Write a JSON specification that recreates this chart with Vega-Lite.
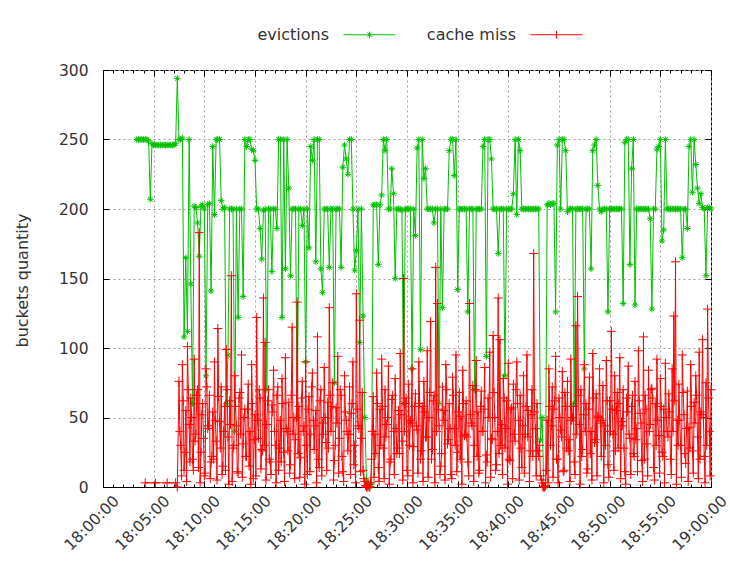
{
"$schema": "https://vega.github.io/schema/vega-lite/v6.json",
"width": 608, "height": 417,
"autosize": {"type": "none"},
"padding": {"left": 103, "top": 70, "right": 19, "bottom": 74},
"background": "white",
"config": {
  "view": {"stroke": "#000", "strokeWidth": 1},
  "font": "DejaVu Sans",
  "axis": {"labelFont": "DejaVu Sans", "labelFontSize": 15.5, "labelColor": "#333", "titleFont": "DejaVu Sans", "titleFontSize": 16, "titleFontWeight": "normal", "titleColor": "#333", "domainColor": "#000", "tickColor": "#000", "gridColor": "#a0a0a0", "gridDash": [2, 3], "gridWidth": 1},
  "legend": {"labelFont": "DejaVu Sans", "labelFontSize": 16, "labelColor": "#333"}
},
"datasets": {
"ev": [
{"t":200,"v":250},{"t":210,"v":250},{"t":220,"v":250},{"t":230,"v":250},{"t":240,"v":250},{"t":250,"v":250},{"t":260,"v":250},{"t":270,"v":249},{"t":280,"v":207},
{"t":290,"v":247},{"t":300,"v":246},{"t":310,"v":246},{"t":320,"v":246},{"t":330,"v":246},{"t":340,"v":246},{"t":350,"v":246},{"t":360,"v":246},{"t":370,"v":246},{"t":380,"v":246},{"t":390,"v":246},{"t":400,"v":246},{"t":410,"v":246},{"t":420,"v":246},{"t":430,"v":247},
{"t":440,"v":294},{"t":450,"v":250},{"t":460,"v":250},{"t":470,"v":251},{"t":480,"v":108},{"t":490,"v":165},{"t":500,"v":112},{"t":510,"v":250},{"t":520,"v":146},{"t":530,"v":60},
{"t":540,"v":202},{"t":550,"v":201},{"t":560,"v":190},{"t":570,"v":166},{"t":580,"v":202},{"t":590,"v":203},{"t":600,"v":200},{"t":610,"v":80},{"t":620,"v":203},{"t":630,"v":204},
{"t":640,"v":141},{"t":650,"v":245},{"t":660,"v":196},{"t":670,"v":250},{"t":680,"v":250},{"t":690,"v":250},{"t":700,"v":206},{"t":710,"v":200},{"t":720,"v":201},{"t":730,"v":60},
{"t":740,"v":95},{"t":750,"v":200},{"t":760,"v":200},{"t":770,"v":200},{"t":780,"v":40},{"t":790,"v":200},{"t":800,"v":122},{"t":810,"v":200},{"t":820,"v":200},{"t":830,"v":137},
{"t":840,"v":250},{"t":850,"v":245},{"t":860,"v":250},{"t":870,"v":250},{"t":880,"v":243},{"t":890,"v":242},{"t":900,"v":235},{"t":910,"v":200},{"t":920,"v":200},{"t":930,"v":186},
{"t":940,"v":164},{"t":950,"v":199},{"t":960,"v":200},{"t":970,"v":70},{"t":980,"v":200},{"t":990,"v":200},{"t":1000,"v":155},{"t":1010,"v":200},{"t":1020,"v":200},{"t":1030,"v":186},
{"t":1040,"v":250},{"t":1050,"v":250},{"t":1060,"v":122},{"t":1070,"v":250},{"t":1080,"v":157},{"t":1090,"v":250},{"t":1100,"v":215},{"t":1110,"v":152},{"t":1120,"v":200},{"t":1130,"v":200},
{"t":1140,"v":200},{"t":1150,"v":50},{"t":1160,"v":200},{"t":1170,"v":200},{"t":1180,"v":188},{"t":1190,"v":200},{"t":1200,"v":90},{"t":1210,"v":200},{"t":1220,"v":172},{"t":1230,"v":245},
{"t":1240,"v":235},{"t":1250,"v":250},{"t":1260,"v":162},{"t":1270,"v":250},{"t":1280,"v":250},{"t":1290,"v":157},{"t":1300,"v":140},{"t":1310,"v":200},{"t":1320,"v":200},{"t":1330,"v":200},
{"t":1340,"v":158},{"t":1350,"v":200},{"t":1360,"v":200},{"t":1370,"v":75},{"t":1380,"v":200},{"t":1390,"v":200},{"t":1400,"v":200},{"t":1410,"v":158},{"t":1420,"v":230},{"t":1430,"v":246},
{"t":1440,"v":236},{"t":1450,"v":225},{"t":1460,"v":250},{"t":1470,"v":250},{"t":1480,"v":200},{"t":1490,"v":156},{"t":1500,"v":170},{"t":1510,"v":200},{"t":1520,"v":104},{"t":1530,"v":200},
{"t":1540,"v":123},{"t":1550,"v":50},{"t":1560,"v":5},{"t":1570,"v":0},{"t":1580,"v":0},{"t":1590,"v":2},{"t":1600,"v":203},{"t":1610,"v":203},{"t":1620,"v":203},{"t":1630,"v":160},
{"t":1640,"v":203},{"t":1650,"v":210},{"t":1660,"v":250},{"t":1670,"v":242},{"t":1680,"v":250},{"t":1690,"v":200},{"t":1700,"v":200},{"t":1710,"v":229},{"t":1720,"v":211},{"t":1730,"v":150},
{"t":1740,"v":200},{"t":1750,"v":200},{"t":1760,"v":200},{"t":1770,"v":199},{"t":1780,"v":60},{"t":1790,"v":200},{"t":1800,"v":200},{"t":1810,"v":200},{"t":1820,"v":200},{"t":1830,"v":85},
{"t":1840,"v":200},{"t":1850,"v":181},{"t":1860,"v":244},{"t":1870,"v":250},{"t":1880,"v":99},{"t":1890,"v":250},{"t":1900,"v":222},{"t":1910,"v":229},{"t":1920,"v":200},{"t":1930,"v":200},
{"t":1940,"v":200},{"t":1950,"v":200},{"t":1960,"v":190},{"t":1970,"v":200},{"t":1980,"v":200},{"t":1990,"v":60},{"t":2000,"v":200},{"t":2010,"v":129},{"t":2020,"v":200},{"t":2030,"v":200},
{"t":2040,"v":200},{"t":2050,"v":242},{"t":2060,"v":250},{"t":2070,"v":250},{"t":2080,"v":224},{"t":2090,"v":250},{"t":2100,"v":142},{"t":2110,"v":200},{"t":2120,"v":200},{"t":2130,"v":200},
{"t":2140,"v":200},{"t":2150,"v":200},{"t":2160,"v":126},{"t":2170,"v":200},{"t":2180,"v":200},{"t":2190,"v":200},{"t":2200,"v":70},{"t":2210,"v":200},{"t":2220,"v":200},{"t":2230,"v":200},
{"t":2240,"v":200},{"t":2250,"v":245},{"t":2260,"v":250},{"t":2270,"v":94},{"t":2280,"v":250},{"t":2290,"v":250},{"t":2300,"v":236},{"t":2310,"v":200},{"t":2320,"v":200},{"t":2330,"v":200},
{"t":2340,"v":168},{"t":2350,"v":200},{"t":2360,"v":200},{"t":2370,"v":200},{"t":2380,"v":80},{"t":2390,"v":200},{"t":2400,"v":200},{"t":2410,"v":200},{"t":2420,"v":200},{"t":2430,"v":211},
{"t":2440,"v":250},{"t":2450,"v":196},{"t":2460,"v":250},{"t":2470,"v":242},{"t":2480,"v":200},{"t":2490,"v":200},{"t":2500,"v":200},{"t":2510,"v":200},{"t":2520,"v":200},{"t":2530,"v":200},
{"t":2540,"v":200},{"t":2550,"v":200},{"t":2560,"v":200},{"t":2570,"v":200},{"t":2580,"v":200},{"t":2590,"v":34},{"t":2600,"v":50},{"t":2610,"v":0},{"t":2620,"v":0},{"t":2630,"v":203},
{"t":2640,"v":204},{"t":2650,"v":203},{"t":2660,"v":204},{"t":2670,"v":204},{"t":2680,"v":126},{"t":2690,"v":246},{"t":2700,"v":250},{"t":2710,"v":200},{"t":2720,"v":250},{"t":2730,"v":250},
{"t":2740,"v":242},{"t":2750,"v":198},{"t":2760,"v":200},{"t":2770,"v":200},{"t":2780,"v":200},{"t":2790,"v":60},{"t":2800,"v":200},{"t":2810,"v":200},{"t":2820,"v":200},{"t":2830,"v":200},
{"t":2840,"v":200},{"t":2850,"v":85},{"t":2860,"v":200},{"t":2870,"v":200},{"t":2880,"v":200},{"t":2890,"v":157},{"t":2900,"v":242},{"t":2910,"v":246},{"t":2920,"v":250},{"t":2930,"v":217},
{"t":2940,"v":200},{"t":2950,"v":198},{"t":2960,"v":200},{"t":2970,"v":200},{"t":2980,"v":200},{"t":2990,"v":126},{"t":3000,"v":200},{"t":3010,"v":200},{"t":3020,"v":200},{"t":3030,"v":200},
{"t":3040,"v":200},{"t":3050,"v":200},{"t":3060,"v":200},{"t":3070,"v":200},{"t":3080,"v":132},{"t":3090,"v":248},{"t":3100,"v":250},{"t":3110,"v":250},{"t":3120,"v":160},{"t":3130,"v":229},
{"t":3140,"v":250},{"t":3150,"v":131},{"t":3160,"v":200},{"t":3170,"v":200},{"t":3180,"v":200},{"t":3190,"v":200},{"t":3200,"v":200},{"t":3210,"v":200},{"t":3220,"v":200},{"t":3230,"v":200},
{"t":3240,"v":193},{"t":3250,"v":128},{"t":3260,"v":200},{"t":3270,"v":200},{"t":3280,"v":243},{"t":3290,"v":245},{"t":3300,"v":250},{"t":3310,"v":177},{"t":3320,"v":185},{"t":3330,"v":250},
{"t":3340,"v":200},{"t":3350,"v":200},{"t":3360,"v":200},{"t":3370,"v":200},{"t":3380,"v":200},{"t":3390,"v":200},{"t":3400,"v":200},{"t":3410,"v":200},{"t":3420,"v":200},{"t":3430,"v":165},
{"t":3440,"v":200},{"t":3450,"v":200},{"t":3460,"v":186},{"t":3470,"v":245},{"t":3480,"v":250},{"t":3490,"v":212},{"t":3500,"v":250},{"t":3510,"v":232},{"t":3520,"v":215},{"t":3530,"v":204},
{"t":3540,"v":211},{"t":3550,"v":201},{"t":3560,"v":200},{"t":3570,"v":152},{"t":3580,"v":201},{"t":3590,"v":201},{"t":3600,"v":200}
],
"cm": [
{"t":250,"v":3},{"t":310,"v":3},{"t":380,"v":3},{"t":430,"v":3},{"t":440,"v":0},
{"t":450,"v":76},{"t":460,"v":30},{"t":470,"v":88},{"t":480,"v":12},{"t":490,"v":55},{"t":500,"v":101},{"t":510,"v":45},{"t":520,"v":64},{"t":530,"v":20},{"t":540,"v":92},
{"t":550,"v":38},{"t":560,"v":70},{"t":570,"v":183},{"t":580,"v":25},{"t":590,"v":60},{"t":600,"v":8},{"t":610,"v":85},{"t":620,"v":42},{"t":630,"v":66},{"t":640,"v":18},
{"t":650,"v":54},{"t":660,"v":90},{"t":670,"v":33},{"t":680,"v":114},{"t":690,"v":47},{"t":700,"v":72},{"t":710,"v":15},{"t":720,"v":58},{"t":730,"v":99},{"t":740,"v":36},
{"t":750,"v":62},{"t":760,"v":152},{"t":770,"v":28},{"t":780,"v":80},{"t":790,"v":44},{"t":800,"v":10},{"t":810,"v":68},{"t":820,"v":95},{"t":830,"v":31},{"t":840,"v":56},
{"t":850,"v":22},{"t":860,"v":74},{"t":870,"v":40},{"t":880,"v":88},{"t":890,"v":6},{"t":900,"v":52},{"t":910,"v":122},{"t":920,"v":35},{"t":930,"v":64},{"t":940,"v":27},
{"t":950,"v":136},{"t":960,"v":104},{"t":970,"v":45},{"t":980,"v":70},{"t":990,"v":18},{"t":1000,"v":59},{"t":1010,"v":84},{"t":1020,"v":30},{"t":1030,"v":66},{"t":1040,"v":12},
{"t":1050,"v":48},{"t":1060,"v":78},{"t":1070,"v":25},{"t":1080,"v":93},{"t":1090,"v":40},{"t":1100,"v":61},{"t":1110,"v":16},{"t":1120,"v":115},{"t":1130,"v":50},{"t":1140,"v":34},
{"t":1150,"v":133},{"t":1160,"v":58},{"t":1170,"v":21},{"t":1180,"v":76},{"t":1190,"v":44},{"t":1200,"v":90},{"t":1210,"v":9},{"t":1220,"v":65},{"t":1230,"v":38},{"t":1240,"v":82},
{"t":1250,"v":27},{"t":1260,"v":55},{"t":1270,"v":108},{"t":1280,"v":14},{"t":1290,"v":70},{"t":1300,"v":46},{"t":1310,"v":86},{"t":1320,"v":32},{"t":1330,"v":61},{"t":1340,"v":129},
{"t":1350,"v":40},{"t":1360,"v":75},{"t":1370,"v":19},{"t":1380,"v":57},{"t":1390,"v":94},{"t":1400,"v":35},{"t":1410,"v":66},{"t":1420,"v":11},{"t":1430,"v":80},{"t":1440,"v":48},
{"t":1450,"v":26},{"t":1460,"v":72},{"t":1470,"v":53},{"t":1480,"v":90},{"t":1490,"v":30},{"t":1500,"v":139},{"t":1510,"v":44},{"t":1520,"v":120},{"t":1530,"v":35},{"t":1540,"v":12},
{"t":1550,"v":4},{"t":1560,"v":0},{"t":1570,"v":2},{"t":1580,"v":0},{"t":1590,"v":20},{"t":1600,"v":65},{"t":1610,"v":38},{"t":1620,"v":82},{"t":1630,"v":14},{"t":1640,"v":56},
{"t":1650,"v":92},{"t":1660,"v":28},{"t":1670,"v":70},{"t":1680,"v":45},{"t":1690,"v":87},{"t":1700,"v":18},{"t":1710,"v":63},{"t":1720,"v":40},{"t":1730,"v":78},{"t":1740,"v":24},
{"t":1750,"v":55},{"t":1760,"v":96},{"t":1770,"v":33},{"t":1780,"v":150},{"t":1790,"v":60},{"t":1800,"v":12},{"t":1810,"v":74},{"t":1820,"v":48},{"t":1830,"v":85},{"t":1840,"v":29},
{"t":1850,"v":67},{"t":1860,"v":41},{"t":1870,"v":90},{"t":1880,"v":20},{"t":1890,"v":58},{"t":1900,"v":76},{"t":1910,"v":36},{"t":1920,"v":98},{"t":1930,"v":50},{"t":1940,"v":119},
{"t":1950,"v":27},{"t":1960,"v":66},{"t":1970,"v":158},{"t":1980,"v":132},{"t":1990,"v":44},{"t":2000,"v":15},{"t":2010,"v":72},{"t":2020,"v":55},{"t":2030,"v":88},{"t":2040,"v":31},
{"t":2050,"v":60},{"t":2060,"v":9},{"t":2070,"v":79},{"t":2080,"v":42},{"t":2090,"v":95},{"t":2100,"v":25},{"t":2110,"v":68},{"t":2120,"v":51},{"t":2130,"v":84},{"t":2140,"v":37},
{"t":2150,"v":62},{"t":2160,"v":18},{"t":2170,"v":132},{"t":2180,"v":46},{"t":2190,"v":73},{"t":2200,"v":30},{"t":2210,"v":91},{"t":2220,"v":54},{"t":2230,"v":12},{"t":2240,"v":69},
{"t":2250,"v":40},{"t":2260,"v":86},{"t":2270,"v":23},{"t":2280,"v":64},{"t":2290,"v":97},{"t":2300,"v":35},{"t":2310,"v":109},{"t":2320,"v":50},{"t":2330,"v":16},{"t":2340,"v":136},
{"t":2350,"v":106},{"t":2360,"v":45},{"t":2370,"v":78},{"t":2380,"v":28},{"t":2390,"v":62},{"t":2400,"v":89},{"t":2410,"v":19},{"t":2420,"v":57},{"t":2430,"v":74},{"t":2440,"v":33},
{"t":2450,"v":90},{"t":2460,"v":48},{"t":2470,"v":66},{"t":2480,"v":14},{"t":2490,"v":80},{"t":2500,"v":38},{"t":2510,"v":95},{"t":2520,"v":55},{"t":2530,"v":26},{"t":2540,"v":70},
{"t":2550,"v":168},{"t":2560,"v":42},{"t":2570,"v":60},{"t":2580,"v":22},{"t":2590,"v":8},{"t":2600,"v":3},{"t":2610,"v":0},{"t":2620,"v":1},{"t":2630,"v":48},{"t":2640,"v":85},
{"t":2650,"v":30},{"t":2660,"v":72},{"t":2670,"v":56},{"t":2680,"v":94},{"t":2690,"v":20},{"t":2700,"v":64},{"t":2710,"v":41},{"t":2720,"v":83},{"t":2730,"v":12},{"t":2740,"v":58},
{"t":2750,"v":76},{"t":2760,"v":34},{"t":2770,"v":92},{"t":2780,"v":50},{"t":2790,"v":18},{"t":2800,"v":116},{"t":2810,"v":137},{"t":2820,"v":45},{"t":2830,"v":70},{"t":2840,"v":27},
{"t":2850,"v":88},{"t":2860,"v":60},{"t":2870,"v":13},{"t":2880,"v":79},{"t":2890,"v":40},{"t":2900,"v":96},{"t":2910,"v":32},{"t":2920,"v":67},{"t":2930,"v":51},{"t":2940,"v":85},
{"t":2950,"v":22},{"t":2960,"v":73},{"t":2970,"v":44},{"t":2980,"v":91},{"t":2990,"v":16},{"t":3000,"v":62},{"t":3010,"v":112},{"t":3020,"v":38},{"t":3030,"v":80},{"t":3040,"v":55},
{"t":3050,"v":28},{"t":3060,"v":93},{"t":3070,"v":47},{"t":3080,"v":70},{"t":3090,"v":11},{"t":3100,"v":64},{"t":3110,"v":87},{"t":3120,"v":35},{"t":3130,"v":58},{"t":3140,"v":24},
{"t":3150,"v":76},{"t":3160,"v":42},{"t":3170,"v":98},{"t":3180,"v":53},{"t":3190,"v":19},{"t":3200,"v":108},{"t":3210,"v":66},{"t":3220,"v":31},{"t":3230,"v":84},{"t":3240,"v":45},
{"t":3250,"v":71},{"t":3260,"v":14},{"t":3270,"v":60},{"t":3280,"v":92},{"t":3290,"v":37},{"t":3300,"v":78},{"t":3310,"v":25},{"t":3320,"v":56},{"t":3330,"v":89},{"t":3340,"v":40},
{"t":3350,"v":67},{"t":3360,"v":20},{"t":3370,"v":85},{"t":3380,"v":123},{"t":3390,"v":162},{"t":3400,"v":48},{"t":3410,"v":74},{"t":3420,"v":30},{"t":3430,"v":95},{"t":3440,"v":52},
{"t":3450,"v":17},{"t":3460,"v":69},{"t":3470,"v":43},{"t":3480,"v":88},{"t":3490,"v":26},{"t":3500,"v":61},{"t":3510,"v":80},{"t":3520,"v":36},{"t":3530,"v":97},{"t":3540,"v":54},
{"t":3550,"v":106},{"t":3560,"v":22},{"t":3570,"v":75},{"t":3580,"v":128},{"t":3590,"v":40},{"t":3600,"v":70},
{"t":455,"v":40},{"t":465,"v":8},{"t":475,"v":62},{"t":485,"v":25},{"t":495,"v":4},{"t":505,"v":70},{"t":515,"v":18},{"t":525,"v":50},{"t":535,"v":12},{"t":545,"v":33},
{"t":555,"v":66},{"t":565,"v":14},{"t":575,"v":3},{"t":585,"v":52},{"t":595,"v":35},{"t":605,"v":10},{"t":615,"v":72},{"t":625,"v":44},{"t":635,"v":6},{"t":645,"v":22},
{"t":655,"v":20},{"t":665,"v":48},{"t":675,"v":5},{"t":685,"v":65},{"t":695,"v":28},{"t":705,"v":9},{"t":715,"v":40},{"t":725,"v":12},{"t":735,"v":70},{"t":745,"v":2},
{"t":755,"v":45},{"t":765,"v":4},{"t":775,"v":30},{"t":785,"v":58},{"t":795,"v":11},{"t":805,"v":64},{"t":815,"v":38},{"t":825,"v":7},{"t":835,"v":50},{"t":845,"v":22},
{"t":855,"v":56},{"t":865,"v":15},{"t":875,"v":2},{"t":885,"v":60},{"t":895,"v":34},{"t":905,"v":8},{"t":915,"v":48},{"t":925,"v":70},{"t":935,"v":13},{"t":945,"v":26},
{"t":955,"v":30},{"t":965,"v":5},{"t":975,"v":62},{"t":985,"v":20},{"t":995,"v":9},{"t":1005,"v":54},{"t":1015,"v":40},{"t":1025,"v":3},{"t":1035,"v":72},{"t":1045,"v":28},
{"t":1055,"v":18},{"t":1065,"v":60},{"t":1075,"v":4},{"t":1085,"v":42},{"t":1095,"v":26},{"t":1105,"v":10},{"t":1115,"v":66},{"t":1125,"v":38},{"t":1135,"v":6},{"t":1145,"v":50},
{"t":1155,"v":24},{"t":1165,"v":7},{"t":1175,"v":64},{"t":1185,"v":40},{"t":1195,"v":2},{"t":1205,"v":30},{"t":1215,"v":56},{"t":1225,"v":11},{"t":1235,"v":72},{"t":1245,"v":48},
{"t":1255,"v":44},{"t":1265,"v":3},{"t":1275,"v":20},{"t":1285,"v":62},{"t":1295,"v":8},{"t":1305,"v":38},{"t":1315,"v":50},{"t":1325,"v":12},{"t":1335,"v":28},{"t":1345,"v":66},
{"t":1355,"v":58},{"t":1365,"v":5},{"t":1375,"v":30},{"t":1385,"v":46},{"t":1395,"v":10},{"t":1405,"v":70},{"t":1415,"v":22},{"t":1425,"v":4},{"t":1435,"v":54},{"t":1445,"v":40},
{"t":1455,"v":38},{"t":1465,"v":9},{"t":1475,"v":60},{"t":1485,"v":16},{"t":1495,"v":3},{"t":1505,"v":56},{"t":1515,"v":42},{"t":1525,"v":11},{"t":1535,"v":68},{"t":1545,"v":6},
{"t":1555,"v":1},{"t":1565,"v":0},{"t":1575,"v":0},{"t":1585,"v":3},{"t":1595,"v":40},{"t":1605,"v":7},{"t":1615,"v":24},{"t":1625,"v":60},{"t":1635,"v":4},{"t":1645,"v":30},
{"t":1655,"v":58},{"t":1665,"v":6},{"t":1675,"v":36},{"t":1685,"v":50},{"t":1695,"v":2},{"t":1705,"v":20},{"t":1715,"v":66},{"t":1725,"v":9},{"t":1735,"v":42},{"t":1745,"v":28},
{"t":1755,"v":24},{"t":1765,"v":52},{"t":1775,"v":5},{"t":1785,"v":40},{"t":1795,"v":64},{"t":1805,"v":8},{"t":1815,"v":30},{"t":1825,"v":46},{"t":1835,"v":3},{"t":1845,"v":58},
{"t":1855,"v":44},{"t":1865,"v":10},{"t":1875,"v":60},{"t":1885,"v":26},{"t":1895,"v":4},{"t":1905,"v":54},{"t":1915,"v":36},{"t":1925,"v":7},{"t":1935,"v":68},{"t":1945,"v":20},
{"t":1955,"v":62},{"t":1965,"v":3},{"t":1975,"v":40},{"t":1985,"v":56},{"t":1995,"v":9},{"t":2005,"v":24},{"t":2015,"v":48},{"t":2025,"v":5},{"t":2035,"v":70},{"t":2045,"v":34},
{"t":2055,"v":42},{"t":2065,"v":6},{"t":2075,"v":66},{"t":2085,"v":30},{"t":2095,"v":11},{"t":2105,"v":54},{"t":2115,"v":20},{"t":2125,"v":2},{"t":2135,"v":60},{"t":2145,"v":38},
{"t":2155,"v":36},{"t":2165,"v":8},{"t":2175,"v":52},{"t":2185,"v":44},{"t":2195,"v":4},{"t":2205,"v":70},{"t":2215,"v":22},{"t":2225,"v":10},{"t":2235,"v":58},{"t":2245,"v":40},
{"t":2255,"v":56},{"t":2265,"v":3},{"t":2275,"v":18},{"t":2285,"v":50},{"t":2295,"v":7},{"t":2305,"v":34},{"t":2315,"v":68},{"t":2325,"v":12},{"t":2335,"v":40},{"t":2345,"v":24},
{"t":2355,"v":30},{"t":2365,"v":9},{"t":2375,"v":64},{"t":2385,"v":42},{"t":2395,"v":2},{"t":2405,"v":20},{"t":2415,"v":56},{"t":2425,"v":6},{"t":2435,"v":38},{"t":2445,"v":70},
{"t":2455,"v":60},{"t":2465,"v":5},{"t":2475,"v":28},{"t":2485,"v":44},{"t":2495,"v":10},{"t":2505,"v":58},{"t":2515,"v":36},{"t":2525,"v":4},{"t":2535,"v":52},{"t":2545,"v":22},
{"t":2555,"v":54},{"t":2565,"v":8},{"t":2575,"v":26},{"t":2585,"v":30},{"t":2595,"v":5},{"t":2605,"v":0},{"t":2615,"v":0},{"t":2625,"v":12},{"t":2635,"v":3},{"t":2645,"v":58},
{"t":2655,"v":44},{"t":2665,"v":7},{"t":2675,"v":62},{"t":2685,"v":20},{"t":2695,"v":3},{"t":2705,"v":50},{"t":2715,"v":36},{"t":2725,"v":11},{"t":2735,"v":68},{"t":2745,"v":28},
{"t":2755,"v":26},{"t":2765,"v":4},{"t":2775,"v":48},{"t":2785,"v":58},{"t":2795,"v":9},{"t":2805,"v":38},{"t":2815,"v":66},{"t":2825,"v":2},{"t":2835,"v":22},{"t":2845,"v":52},
{"t":2855,"v":40},{"t":2865,"v":10},{"t":2875,"v":56},{"t":2885,"v":24},{"t":2895,"v":5},{"t":2905,"v":64},{"t":2915,"v":34},{"t":2925,"v":8},{"t":2935,"v":50},{"t":2945,"v":46},
{"t":2955,"v":48},{"t":2965,"v":3},{"t":2975,"v":30},{"t":2985,"v":62},{"t":2995,"v":7},{"t":3005,"v":40},{"t":3015,"v":56},{"t":3025,"v":12},{"t":3035,"v":26},{"t":3045,"v":68},
{"t":3055,"v":60},{"t":3065,"v":6},{"t":3075,"v":44},{"t":3085,"v":28},{"t":3095,"v":2},{"t":3105,"v":54},{"t":3115,"v":38},{"t":3125,"v":9},{"t":3135,"v":66},{"t":3145,"v":22},
{"t":3155,"v":34},{"t":3165,"v":11},{"t":3175,"v":62},{"t":3185,"v":46},{"t":3195,"v":4},{"t":3205,"v":20},{"t":3215,"v":56},{"t":3225,"v":8},{"t":3235,"v":40},{"t":3245,"v":70},
{"t":3255,"v":64},{"t":3265,"v":5},{"t":3275,"v":30},{"t":3285,"v":48},{"t":3295,"v":10},{"t":3305,"v":58},{"t":3315,"v":22},{"t":3325,"v":3},{"t":3335,"v":50},{"t":3345,"v":36},
{"t":3355,"v":54},{"t":3365,"v":9},{"t":3375,"v":40},{"t":3385,"v":62},{"t":3395,"v":2},{"t":3405,"v":30},{"t":3415,"v":48},{"t":3425,"v":7},{"t":3435,"v":68},{"t":3445,"v":24},
{"t":3455,"v":42},{"t":3465,"v":4},{"t":3475,"v":28},{"t":3485,"v":58},{"t":3495,"v":10},{"t":3505,"v":46},{"t":3515,"v":66},{"t":3525,"v":6},{"t":3535,"v":20},{"t":3545,"v":52},
{"t":3555,"v":50},{"t":3565,"v":3},{"t":3575,"v":30},{"t":3585,"v":64},{"t":3595,"v":8}
]
},
"layer": [
{
  "data": {"name": "ev"},
  "mark": {"type": "line", "strokeWidth": 1, "point": {"shape": "M-1,0L1,0M0,-1L0,1M-0.7,-0.7L0.7,0.7M-0.7,0.7L0.7,-0.7", "size": 42, "filled": false, "strokeWidth": 1}},
  "encoding": {
    "x": {"field": "t", "type": "quantitative", "scale": {"domain": [0, 3600], "nice": false, "zero": false},
      "axis": {"orient": "bottom", "title": null, "values": [0,60,120,180,240,300,360,420,480,540,600,660,720,780,840,900,960,1020,1080,1140,1200,1260,1320,1380,1440,1500,1560,1620,1680,1740,1800,1860,1920,1980,2040,2100,2160,2220,2280,2340,2400,2460,2520,2580,2640,2700,2760,2820,2880,2940,3000,3060,3120,3180,3240,3300,3360,3420,3480,3540,3600],
        "labelExpr": "datum.value % 300 === 0 ? (datum.value === 3600 ? '19:00:00' : '18:' + (datum.value < 600 ? '0' : '') + (datum.value / 60) + ':00') : ''",
        "labelAngle": -45, "labelAlign": "right", "labelBaseline": "top", "labelPadding": 12, "labelOffset": 8, "labelFlush": false, "labelOverlap": false, "labelBound": false,
        "tickSize": {"condition": {"test": "datum.value % 300 === 0", "value": -6}, "value": -3},
        "grid": true, "gridOpacity": {"condition": {"test": "datum.value % 300 === 0", "value": 1}, "value": 0}}},
    "y": {"field": "v", "type": "quantitative", "scale": {"domain": [0, 300], "nice": false},
      "axis": {"orient": "left", "values": [0,50,100,150,200,250,300], "title": "buckets quantity", "tickSize": -6, "labelPadding": 21, "grid": true, "titleX": -81, "titleY": 210, "titleAngle": -90, "titleAlign": "center", "titleBaseline": "middle"}},
    "color": {"datum": "evictions", "type": "nominal", "scale": {"domain": ["evictions", "cache miss"], "range": ["#00c000", "#ff0000"]},
      "legend": {"orient": "none", "legendX": 240, "legendY": -62, "direction": "horizontal", "title": null, "symbolType": "stroke", "symbolSize": 2704, "symbolStrokeWidth": 1, "labelAlign": "right", "labelOffset": -67, "columnPadding": 28, "padding": 0,
        "encode": {"symbols": {"update": {"shape": {"signal": "datum.value === 'evictions' ? 'M-1,0L1,0M0,-0.12L0,0.12M-0.085,-0.085L0.085,0.085M-0.085,0.085L0.085,-0.085' : 'M-1,0L1,0M0,-0.15L0,0.15'"}}}}}}
  }
},
{
  "data": {"name": "cm"},
  "mark": {"type": "line", "strokeWidth": 1, "point": {"shape": "M-1,0L1,0M0,-1L0,1", "size": 81, "filled": false, "strokeWidth": 1}},
  "encoding": {
    "x": {"field": "t", "type": "quantitative", "scale": {"domain": [0, 3600], "nice": false, "zero": false},
      "axis": {"orient": "top", "title": null, "labels": false, "grid": false, "domain": false, "values": [0,60,120,180,240,300,360,420,480,540,600,660,720,780,840,900,960,1020,1080,1140,1200,1260,1320,1380,1440,1500,1560,1620,1680,1740,1800,1860,1920,1980,2040,2100,2160,2220,2280,2340,2400,2460,2520,2580,2640,2700,2760,2820,2880,2940,3000,3060,3120,3180,3240,3300,3360,3420,3480,3540,3600],
        "tickSize": {"condition": {"test": "datum.value % 300 === 0", "value": -6}, "value": -3}}},
    "y": {"field": "v", "type": "quantitative", "scale": {"domain": [0, 300], "nice": false},
      "axis": {"orient": "right", "title": null, "labels": false, "grid": false, "domain": false, "values": [0,50,100,150,200,250,300], "tickSize": -6}},
    "color": {"datum": "cache miss", "type": "nominal"}
  }
}
],
"resolve": {"axis": {"x": "independent", "y": "independent"}}
}
